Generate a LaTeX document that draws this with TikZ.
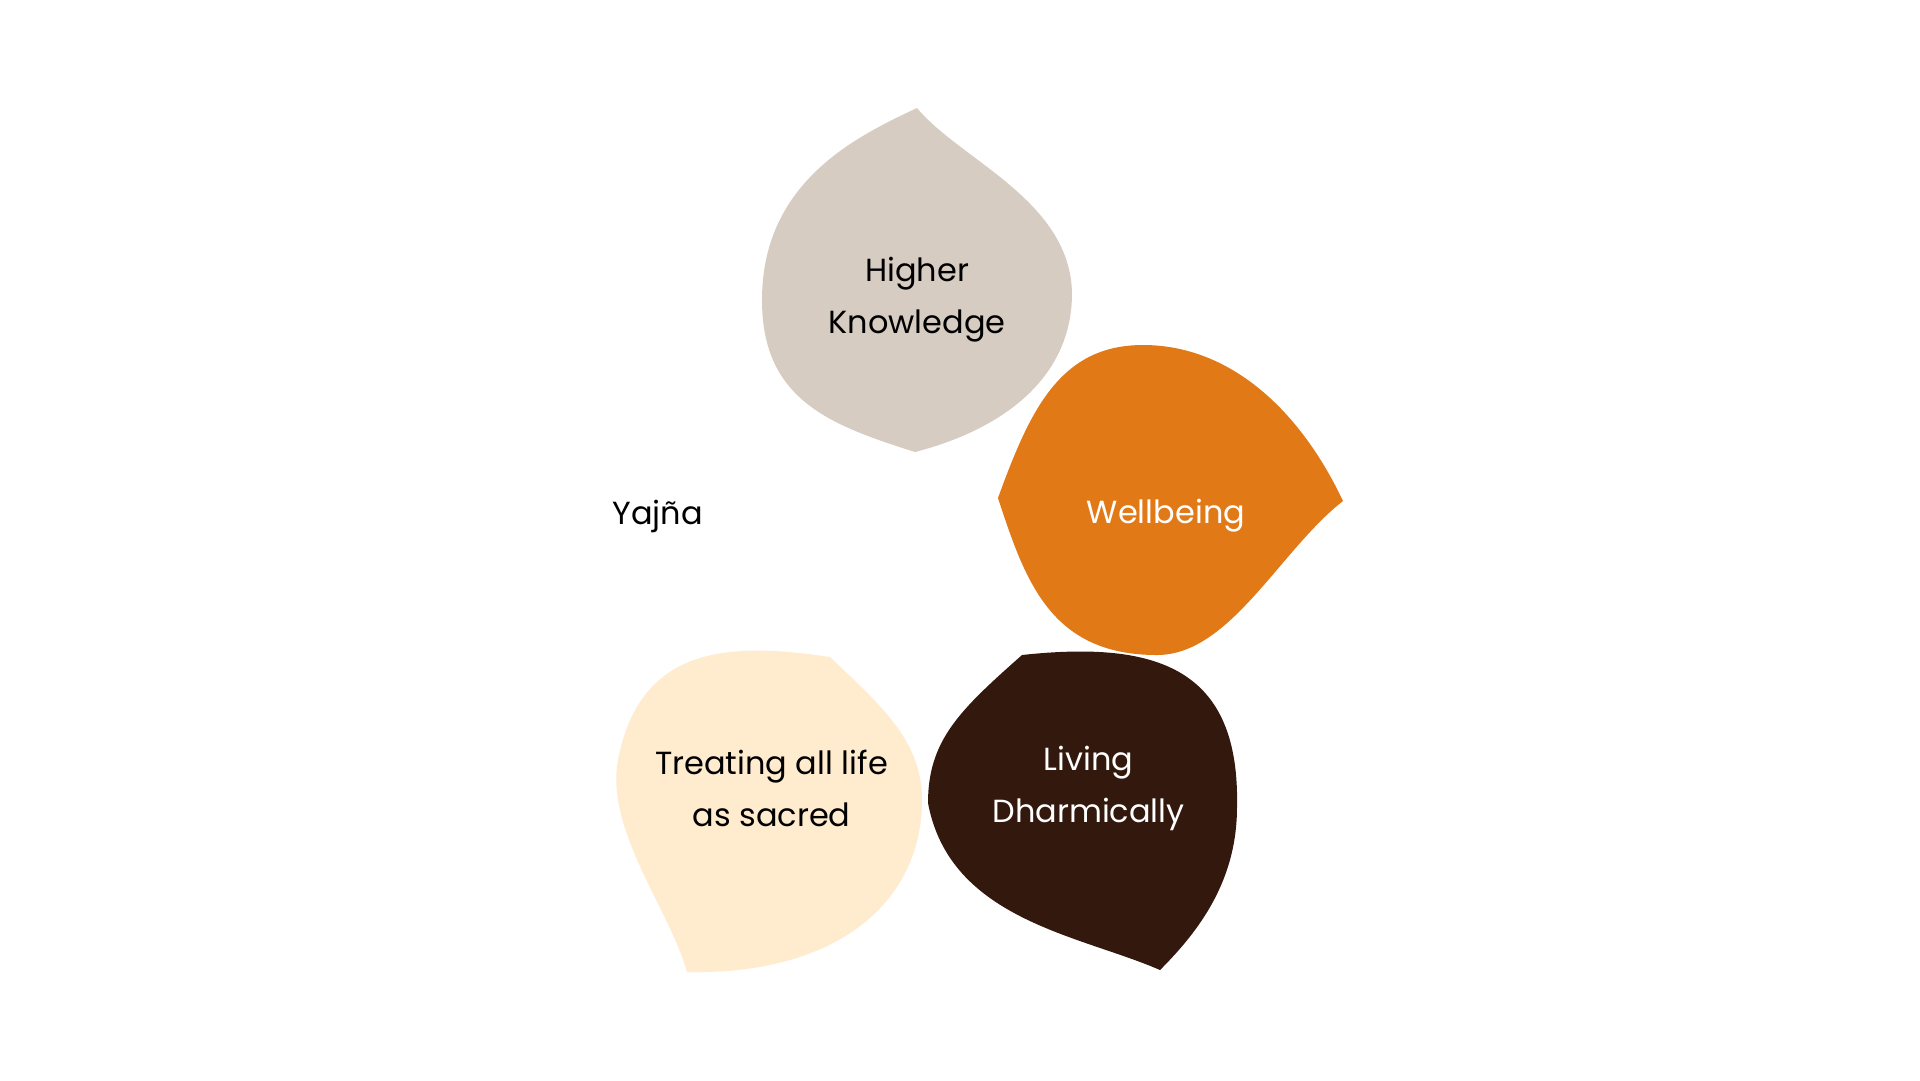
\documentclass[tikz,border=0pt]{standalone}
\usepackage{fontspec}
\setmainfont{Poppins}
\usepackage{tikz}
\definecolor{knowbeige}{HTML}{D6CCC2}
\definecolor{wellorange}{HTML}{E17916}
\definecolor{lifecream}{HTML}{FFEBCD}
\definecolor{dharmabrown}{HTML}{33180E}

\begin{document}
\begin{tikzpicture}[x=0.1mm,y=-0.1mm,
    every node/.style={font=\fontsize{9.1}{14.8}\selectfont,align=center},
    darktext/.style={text=black},
    lighttext/.style={text=white}]
  \useasboundingbox[fill=white] (0,0) rectangle (1920,1080);
  % petals
  \fill[knowbeige] (917,108) .. controls (960,160) and (1070,200) .. (1072,293)
    .. controls (1072,380) and (1000,430) .. (915,452)
    .. controls (830,425) and (762,400) .. (762,300)
    .. controls (762,180) and (860,135) .. (917,108) -- cycle;
  \fill[wellorange] (998,498) .. controls (1030,410) and (1060,345) .. (1143,345)
    .. controls (1230,345) and (1300,410) .. (1343,501)
    .. controls (1280,550) and (1230,655) .. (1157,655)
    .. controls (1050,655) and (1025,580) .. (998,498) -- cycle;
  \fill[lifecream] (830,657) .. controls (730,642) and (640,645) .. (618,760)
    .. controls (605,830) and (670,910) .. (687,972)
    .. controls (840,975) and (922,900) .. (922,800)
    .. controls (922,740) and (880,705) .. (830,657) -- cycle;
  \fill[dharmabrown] (1022,655) .. controls (1160,640) and (1240,670) .. (1237,807)
    .. controls (1237,880) and (1200,930) .. (1160,970)
    .. controls (1080,935) and (950,920) .. (928,803)
    .. controls (928,740) and (960,710) .. (1022,655) -- cycle;
  % labels
  \node[darktext] (yajna) at (657.5,516) {Yajña};
  \node[darktext] (know) at (917,300) {Higher\\Knowledge};
  \node[lighttext] (well) at (1166,516) {Wellbeing};
  \node[darktext] (life) at (771.5,788) {Treating all life\\as sacred};
  \node[lighttext] (dharma) at (1088.6,788) {Living\\Dharmically};
\end{tikzpicture}
\end{document}
